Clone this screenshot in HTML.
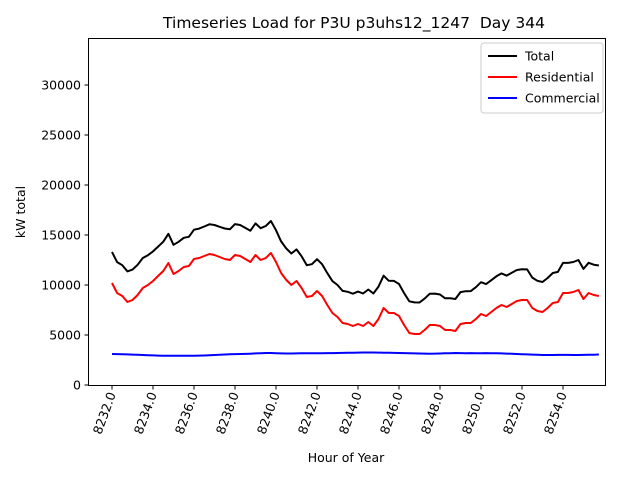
<!DOCTYPE html>
<html><head><meta charset="utf-8"><style>
body{margin:0;background:#fff;font-family:"DejaVu Sans","Liberation Sans",sans-serif}
text{white-space:pre}
</style></head><body>
<svg id="chart" width="640" height="480" xmlns="http://www.w3.org/2000/svg" font-family="DejaVu Sans, Liberation Sans, sans-serif">
<rect width="640" height="480" fill="#fff"/>
<text x="354" y="28" font-size="15.5" text-anchor="middle" xml:space="preserve">Timeseries Load for P3U p3uhs12_1247  Day 344</text>
<text transform="translate(25,212) rotate(-90)" font-size="12.5" text-anchor="middle">kW total</text>
<text x="346" y="462" font-size="12.5" text-anchor="middle">Hour of Year</text>
<g id="ticks"></g>
<g id="series"></g>
<rect x="88.5" y="38.5" width="517" height="347" fill="none" stroke="#000" stroke-width="1"/>
<g>
<rect x="481" y="43" width="122" height="70" rx="3" fill="#fff" stroke="#ccc"/>
<line x1="488" y1="56" x2="517" y2="56" stroke="#000" stroke-width="2"/>
<text x="525" y="60.5" font-size="12.5">Total</text>
<line x1="488" y1="77" x2="517" y2="77" stroke="#f00" stroke-width="2"/>
<text x="525" y="81.5" font-size="12.5">Residential</text>
<line x1="488" y1="98" x2="517" y2="98" stroke="#00f" stroke-width="2"/>
<text x="525" y="102.5" font-size="12.5">Commercial</text>
</g>
</svg>
<script>
const startHour = 8232;
const stepHours = 0.25;
const residential = [10200,9200,8900,8300,8500,9000,9700,10000,10400,10900,11400,12200,11100,11400,11800,11900,12600,12700,12900,13100,13000,12800,12600,12500,13000,12900,12600,12300,13000,12500,12700,13200,12300,11200,10500,10000,10400,9700,8800,8900,9400,8900,8000,7200,6800,6200,6100,5900,6100,5900,6300,5900,6600,7700,7200,7200,6900,6000,5200,5100,5100,5500,6000,6000,5900,5500,5500,5400,6100,6200,6200,6600,7100,6900,7300,7700,8000,7800,8100,8400,8500,8500,7700,7400,7300,7700,8200,8300,9200,9200,9300,9500,8600,9200,9000,8900];
const commercial = [3100,3090,3080,3060,3040,3020,3000,2980,2960,2940,2930,2920,2920,2920,2920,2920,2930,2940,2950,2970,3000,3020,3050,3070,3090,3100,3110,3130,3160,3180,3200,3200,3180,3160,3150,3150,3160,3170,3180,3180,3180,3180,3190,3190,3200,3210,3220,3230,3240,3250,3250,3250,3240,3230,3220,3210,3200,3190,3170,3160,3150,3140,3130,3140,3150,3170,3180,3200,3190,3180,3190,3180,3180,3190,3180,3170,3160,3140,3120,3100,3080,3060,3040,3020,3000,3000,3000,3010,3010,3010,3000,3000,3010,3020,3030,3050];
const xTicks = [8232,8234,8236,8238,8240,8242,8244,8246,8248,8250,8252,8254];
const yTicks = [0,5000,10000,15000,20000,25000,30000];

const NS="http://www.w3.org/2000/svg";
const xs = h => 112 + (h-8232)*20.5;
const ys = v => 385 - v*0.01;
const ticks=document.getElementById('ticks');
const series=document.getElementById('series');
function mk(tag,attrs,parent){const e=document.createElementNS(NS,tag);for(const k in attrs)e.setAttribute(k,attrs[k]);parent.appendChild(e);return e;}
yTicks.forEach(v=>{
  const y=ys(v);
  const l=mk('line',{x1:84.5,x2:88.5,y1:y,y2:y,stroke:'#000'},ticks);
  
  
  const t=mk('text',{x:81,y:y+4.5,'font-size':12.5,'text-anchor':'end'},ticks);
  t.textContent=v;
  
  
});
xTicks.forEach(h=>{
  const x=xs(h);
  const l=mk('line',{x1:x,x2:x,y1:385.5,y2:389.5,stroke:'#000'},ticks);
  
  
  const t=mk('text',{transform:`translate(${x+4},394) rotate(-70)`,'font-size':12.5,'text-anchor':'end'},ticks);
  t.textContent=h.toFixed(1);
  
  
});
const total = residential.map((r,i)=>r+commercial[i]);
function draw(vals,color,name){
  const pts=vals.map((v,i)=>xs(startHour+i*stepHours).toFixed(1)+','+ys(v).toFixed(1)).join(' ');
  const p=mk('polyline',{points:pts,fill:'none',stroke:color,'stroke-width':2,'stroke-linejoin':'round'},series);
  
  
}
draw(total,'#000','total-line');
draw(residential,'#f00','residential-line');
draw(commercial,'#00f','commercial-line');
</script>
</body></html>
